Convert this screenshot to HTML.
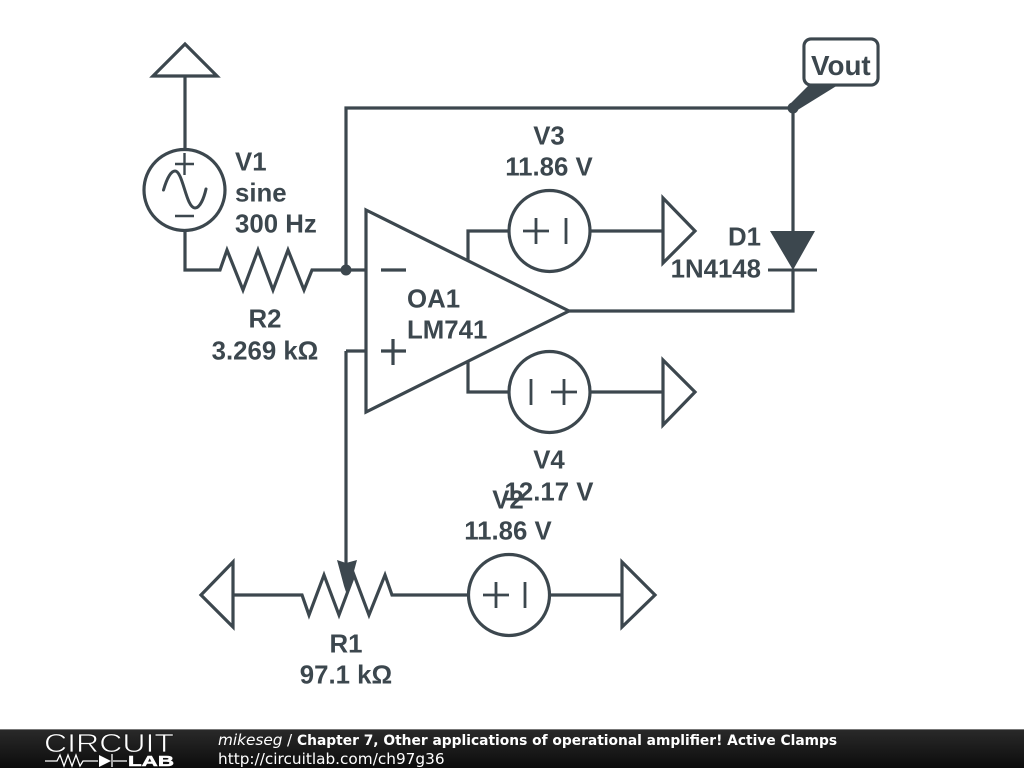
<!DOCTYPE html>
<html><head><meta charset="utf-8">
<style>
html,body{margin:0;padding:0;background:#fff;width:1024px;height:768px;overflow:hidden}
svg{display:block;position:absolute;left:0;top:0}
</style></head>
<body>
<svg width="1024" height="768" viewBox="0 0 1024 768" xmlns="http://www.w3.org/2000/svg">
<defs>
<linearGradient id="bar" x1="0" y1="0" x2="0" y2="1"><stop offset="0" stop-color="#2a2a2a"/><stop offset="1" stop-color="#0c0c0c"/></linearGradient>
</defs>
<rect width="1024" height="768" fill="#fff"/>
<g fill="none" stroke="#3c474e" stroke-width="3.2" stroke-linejoin="miter" stroke-linecap="butt">
<!-- V1 -->
<polygon points="185,44 217,76 153,76"/>
<path d="M185 76V149"/>
<circle cx="184.500" cy="190" r="40.500"/>
<path d="M185 231V270H220L227 250 243 290 258 250 273 290 288 250 304 290 312 270H366"/>
<path d="M175 164H194M184.500 153V175" stroke-width="2.400"/>
<path d="M175 216H194" stroke-width="2.400"/>
<path d="M163.500 190C167 178 171 171 175 171C183 171 186 208 195 208C200 208 204 198 206 189" stroke-width="3" stroke-linecap="round"/>
<!-- feedback -->
<path d="M346 270V108H793V231"/>
<!-- opamp -->
<polygon points="366,210 569,311 366,412"/>
<path d="M381 270H406M381 351H406M393 339V365"/>
<path d="M569 311H793V270"/>
<!-- V3 / V4 supply -->
<path d="M509 231H468V260M590 231H663"/>
<path d="M468 362V392H509M590 392H663"/>
<circle cx="549.500" cy="231" r="40.500"/>
<path d="M523 231H549M536 218V244M566 218V244" stroke-width="2.800"/>
<polygon points="663,198 695,231 663,263"/>
<circle cx="549.500" cy="392" r="40.500"/>
<path d="M531 379V405M551 392H577M564 379V405" stroke-width="2.800"/>
<polygon points="663,360 695,392 663,425"/>
<!-- R1 -->
<path d="M346 351V565M366 351H346"/>
<polygon points="233,562 201,595 233,627"/>
<path d="M233 595H302L309 615 324 575 339 615 354 575 369 615 385 575 392 595H468"/>
<circle cx="509" cy="595" r="40.500"/>
<path d="M483 595H509M496 582V608M525 582V608" stroke-width="2.800"/>
<path d="M550 595H622"/>
<polygon points="622,562 655,595 622,627"/>
<!-- diode bar -->
<path d="M768 270H817" stroke-width="3"/>
<!-- Vout -->
<rect x="804" y="39" width="74" height="46" rx="7" ry="7"/>
</g>
<g fill="#3c474e" stroke="none">
<circle cx="346" cy="270" r="5.500"/>
<circle cx="793" cy="108" r="5.500"/>
<polygon points="790,104 809,85 838,85 796,111"/>
<polygon points="770,231 815,231 793,270"/>
<polygon points="337,560 346,563 357,560 350,586 346,592 344,586"/>
</g>
<rect x="805.600" y="40.600" width="70.800" height="42.800" rx="6" fill="#fff"/>
<g font-family="'Liberation Sans',sans-serif" font-weight="700" font-size="25.800" fill="#3c474e">
<text x="811" y="75" font-size="27.800">Vout</text>
<text x="235" y="170.700">V1</text>
<text x="235" y="201.700">sine</text>
<text x="235" y="232.700">300 Hz</text>
<text x="407" y="307.700">OA1</text>
<text x="407" y="338.700">LM741</text>
<g text-anchor="middle">
<text x="549" y="144.700">V3</text>
<text x="549" y="175.700">11.86 V</text>
<text x="549" y="468.700">V4</text>
<text x="549" y="500.700">12.17 V</text>
<text x="508" y="508.700">V2</text>
<text x="508" y="539.700">11.86 V</text>
<text x="265" y="327.700">R2</text>
<text x="265" y="359.700">3.269 kΩ</text>
<text x="346" y="652.700">R1</text>
<text x="346" y="683.700">97.1 kΩ</text>
</g>
<g text-anchor="end">
<text x="761" y="245.700">D1</text>
<text x="761" y="277.700">1N4148</text>
</g>
</g>
<!-- footer -->
<rect x="0" y="729" width="1024" height="39" fill="url(#bar)"/>
<rect x="0" y="729" width="1024" height="1" fill="#777"/>
<text x="44" y="752" font-family="'Liberation Sans',sans-serif" font-size="26" fill="#fff" stroke="#1b1b1b" stroke-width="0.700" textLength="130" lengthAdjust="spacingAndGlyphs">CIRCUIT</text>
<g fill="none" stroke="#fff" stroke-width="1.300">
<path d="M45 761H57L60 755 64 766 68 755 72 766 76 755 80 766 83 761H98M113 761H127"/>
<path d="M112 754V767"/>
</g>
<polygon points="99,755 99,767 111,761" fill="#fff"/>
<text x="128" y="766" font-family="'Liberation Sans',sans-serif" font-weight="700" font-size="15" fill="#fff" stroke="#fff" stroke-width="0.500" textLength="46" lengthAdjust="spacingAndGlyphs">LAB</text>
<g font-family="'DejaVu Sans',sans-serif" fill="#fff">
<text x="218" y="745" font-size="15.300" font-style="italic">mikeseg</text>
<text x="287" y="745" font-size="15.300">/</text>
<text x="297" y="745" font-size="13.800" font-weight="700">Chapter 7, Other applications of operational amplifier! Active Clamps</text>
<text x="218" y="764" font-size="15.300">http://circuitlab.com/ch97g36</text>
</g>
</svg>
</body></html>
